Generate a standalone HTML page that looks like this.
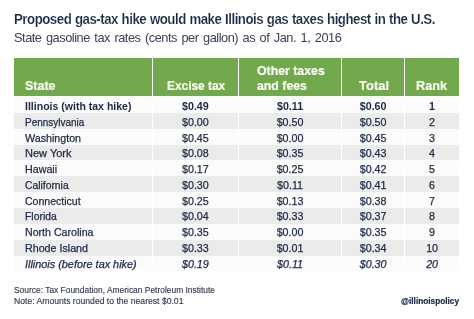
<!DOCTYPE html>
<html><head><meta charset="utf-8"><style>
html,body{margin:0;padding:0;background:#fff;width:474px;height:319px;overflow:hidden;}
body{font-family:"Liberation Sans",sans-serif;color:#1c2946;position:relative;}
#wrap{position:absolute;left:0;top:0;width:474px;height:319px;will-change:transform;}
.t{position:absolute;white-space:nowrap;transform-origin:0 0;}
#title{left:14px;top:13px;font-size:13.8px;font-weight:bold;letter-spacing:-0.5px;word-spacing:0.5px;-webkit-text-stroke:0.12px #fff;paint-order:normal;line-height:1;transform:scaleX(0.96);}
#sub{left:14px;top:31.3px;font-size:13.6px;letter-spacing:-0.5px;word-spacing:1.5px;line-height:1;color:#3a4157;transform:scaleX(0.94);}
.hdr{position:absolute;top:57.5px;height:38.90px;background:#73a94d;}
.h{color:#fafcf2;-webkit-text-stroke:0.2px #fafcf2;font-weight:bold;font-size:13px;position:absolute;white-space:nowrap;line-height:15px;letter-spacing:0px;transform-origin:0 0;}
.c{position:absolute;}
.g{background:#ebebeb;}
.w{background:#fbfbfb;}
.x{position:absolute;font-size:10.7px;white-space:nowrap;line-height:1;-webkit-text-stroke:0.25px #1c2946;}
.x span{display:inline-block;}
.nm span{transform-origin:0 50%;transform:scaleX(1.0);letter-spacing:0px;}
.b{-webkit-text-stroke:0px #fbfbfb;}
.nm.b span{transform:scaleX(0.985);letter-spacing:0px;}
.nm.i span{transform:scaleX(1);letter-spacing:0px;}
.nu{text-align:center;}
.nu span{transform-origin:50% 50%;transform:scaleX(1);}
#src,.src{left:14px;font-size:9.3px;line-height:10.5px;letter-spacing:0px;color:#33394c;-webkit-text-stroke:0.15px #33394c;}
#handle{left:401px;top:296.5px;font-size:8.5px;font-weight:bold;letter-spacing:0px;line-height:1;-webkit-text-stroke:0.2px #1c2946;transform:scaleX(0.97);}
</style></head><body><div id="wrap">
<div class="t" id="title">Proposed gas-tax hike would make Illinois gas taxes highest in the U.S.</div>
<div class="t" id="sub">State gasoline tax rates (cents per gallon) as of Jan. 1, 2016</div>
<div class="hdr" style="left:14.2px;width:137.80px"></div>
<div class="hdr" style="left:153.0px;width:84.80px"></div>
<div class="hdr" style="left:238.8px;width:102.50px"></div>
<div class="hdr" style="left:342.3px;width:61.70px"></div>
<div class="hdr" style="left:405.0px;width:54.20px"></div>
<div class="h" style="left:25px;top:78px;transform:scaleX(0.96)">State</div>
<div class="h" style="left:166.8px;top:78px;transform:scaleX(0.915)">Excise tax</div>
<div class="h" style="left:256.6px;top:63.4px;transform:scaleX(0.947)">Other taxes<br>and fees</div>
<div class="h" style="left:359px;top:78px;transform:scaleX(1)">Total</div>
<div class="h" style="left:416.3px;top:78px;transform:scaleX(0.975)">Rank</div>
<div class="c w" style="left:14.2px;top:97.10px;width:137.80px;height:15.85px"></div>
<div class="c w" style="left:153.0px;top:97.10px;width:84.80px;height:15.85px"></div>
<div class="c w" style="left:238.8px;top:97.10px;width:102.50px;height:15.85px"></div>
<div class="c w" style="left:342.3px;top:97.10px;width:61.70px;height:15.85px"></div>
<div class="c w" style="left:405.0px;top:97.10px;width:54.20px;height:15.85px"></div>
<div class="x nm b" style="left:25px;top:101.20px;font-weight:bold;"><span style="transform:scaleX(0.985)">Illinois (with tax hike)</span></div>
<div class="x nu b" style="left:153.00px;width:84.80px;top:101.20px;font-weight:bold;"><span>$0.49</span></div>
<div class="x nu b" style="left:238.80px;width:102.50px;top:101.20px;font-weight:bold;"><span>$0.11</span></div>
<div class="x nu b" style="left:342.30px;width:61.70px;top:101.20px;font-weight:bold;"><span>$0.60</span></div>
<div class="x nu b" style="left:405.00px;width:54.20px;top:101.20px;font-weight:bold;"><span>1</span></div>
<div class="c g" style="left:14.2px;top:112.95px;width:137.80px;height:15.85px"></div>
<div class="c g" style="left:153.0px;top:112.95px;width:84.80px;height:15.85px"></div>
<div class="c g" style="left:238.8px;top:112.95px;width:102.50px;height:15.85px"></div>
<div class="c g" style="left:342.3px;top:112.95px;width:61.70px;height:15.85px"></div>
<div class="c g" style="left:405.0px;top:112.95px;width:54.20px;height:15.85px"></div>
<div class="x nm" style="left:25px;top:116.95px;"><span style="transform:scaleX(0.932)">Pennsylvania</span></div>
<div class="x nu" style="left:153.00px;width:84.80px;top:116.95px;"><span>$0.00</span></div>
<div class="x nu" style="left:238.80px;width:102.50px;top:116.95px;"><span>$0.50</span></div>
<div class="x nu" style="left:342.30px;width:61.70px;top:116.95px;"><span>$0.50</span></div>
<div class="x nu" style="left:405.00px;width:54.20px;top:116.95px;"><span>2</span></div>
<div class="c w" style="left:14.2px;top:128.80px;width:137.80px;height:15.85px"></div>
<div class="c w" style="left:153.0px;top:128.80px;width:84.80px;height:15.85px"></div>
<div class="c w" style="left:238.8px;top:128.80px;width:102.50px;height:15.85px"></div>
<div class="c w" style="left:342.3px;top:128.80px;width:61.70px;height:15.85px"></div>
<div class="c w" style="left:405.0px;top:128.80px;width:54.20px;height:15.85px"></div>
<div class="x nm" style="left:25px;top:132.70px;"><span style="transform:scaleX(1.0)">Washington</span></div>
<div class="x nu" style="left:153.00px;width:84.80px;top:132.70px;"><span>$0.45</span></div>
<div class="x nu" style="left:238.80px;width:102.50px;top:132.70px;"><span>$0.00</span></div>
<div class="x nu" style="left:342.30px;width:61.70px;top:132.70px;"><span>$0.45</span></div>
<div class="x nu" style="left:405.00px;width:54.20px;top:132.70px;"><span>3</span></div>
<div class="c g" style="left:14.2px;top:144.65px;width:137.80px;height:15.85px"></div>
<div class="c g" style="left:153.0px;top:144.65px;width:84.80px;height:15.85px"></div>
<div class="c g" style="left:238.8px;top:144.65px;width:102.50px;height:15.85px"></div>
<div class="c g" style="left:342.3px;top:144.65px;width:61.70px;height:15.85px"></div>
<div class="c g" style="left:405.0px;top:144.65px;width:54.20px;height:15.85px"></div>
<div class="x nm" style="left:25px;top:148.45px;"><span style="transform:scaleX(1.03)">New York</span></div>
<div class="x nu" style="left:153.00px;width:84.80px;top:148.45px;"><span>$0.08</span></div>
<div class="x nu" style="left:238.80px;width:102.50px;top:148.45px;"><span>$0.35</span></div>
<div class="x nu" style="left:342.30px;width:61.70px;top:148.45px;"><span>$0.43</span></div>
<div class="x nu" style="left:405.00px;width:54.20px;top:148.45px;"><span>4</span></div>
<div class="c w" style="left:14.2px;top:160.50px;width:137.80px;height:15.85px"></div>
<div class="c w" style="left:153.0px;top:160.50px;width:84.80px;height:15.85px"></div>
<div class="c w" style="left:238.8px;top:160.50px;width:102.50px;height:15.85px"></div>
<div class="c w" style="left:342.3px;top:160.50px;width:61.70px;height:15.85px"></div>
<div class="c w" style="left:405.0px;top:160.50px;width:54.20px;height:15.85px"></div>
<div class="x nm" style="left:25px;top:164.20px;"><span style="transform:scaleX(1.0)">Hawaii</span></div>
<div class="x nu" style="left:153.00px;width:84.80px;top:164.20px;"><span>$0.17</span></div>
<div class="x nu" style="left:238.80px;width:102.50px;top:164.20px;"><span>$0.25</span></div>
<div class="x nu" style="left:342.30px;width:61.70px;top:164.20px;"><span>$0.42</span></div>
<div class="x nu" style="left:405.00px;width:54.20px;top:164.20px;"><span>5</span></div>
<div class="c g" style="left:14.2px;top:176.35px;width:137.80px;height:15.85px"></div>
<div class="c g" style="left:153.0px;top:176.35px;width:84.80px;height:15.85px"></div>
<div class="c g" style="left:238.8px;top:176.35px;width:102.50px;height:15.85px"></div>
<div class="c g" style="left:342.3px;top:176.35px;width:61.70px;height:15.85px"></div>
<div class="c g" style="left:405.0px;top:176.35px;width:54.20px;height:15.85px"></div>
<div class="x nm" style="left:25px;top:179.95px;"><span style="transform:scaleX(0.967)">California</span></div>
<div class="x nu" style="left:153.00px;width:84.80px;top:179.95px;"><span>$0.30</span></div>
<div class="x nu" style="left:238.80px;width:102.50px;top:179.95px;"><span>$0.11</span></div>
<div class="x nu" style="left:342.30px;width:61.70px;top:179.95px;"><span>$0.41</span></div>
<div class="x nu" style="left:405.00px;width:54.20px;top:179.95px;"><span>6</span></div>
<div class="c w" style="left:14.2px;top:192.20px;width:137.80px;height:15.85px"></div>
<div class="c w" style="left:153.0px;top:192.20px;width:84.80px;height:15.85px"></div>
<div class="c w" style="left:238.8px;top:192.20px;width:102.50px;height:15.85px"></div>
<div class="c w" style="left:342.3px;top:192.20px;width:61.70px;height:15.85px"></div>
<div class="c w" style="left:405.0px;top:192.20px;width:54.20px;height:15.85px"></div>
<div class="x nm" style="left:25px;top:195.70px;"><span style="transform:scaleX(0.986)">Connecticut</span></div>
<div class="x nu" style="left:153.00px;width:84.80px;top:195.70px;"><span>$0.25</span></div>
<div class="x nu" style="left:238.80px;width:102.50px;top:195.70px;"><span>$0.13</span></div>
<div class="x nu" style="left:342.30px;width:61.70px;top:195.70px;"><span>$0.38</span></div>
<div class="x nu" style="left:405.00px;width:54.20px;top:195.70px;"><span>7</span></div>
<div class="c g" style="left:14.2px;top:208.05px;width:137.80px;height:15.85px"></div>
<div class="c g" style="left:153.0px;top:208.05px;width:84.80px;height:15.85px"></div>
<div class="c g" style="left:238.8px;top:208.05px;width:102.50px;height:15.85px"></div>
<div class="c g" style="left:342.3px;top:208.05px;width:61.70px;height:15.85px"></div>
<div class="c g" style="left:405.0px;top:208.05px;width:54.20px;height:15.85px"></div>
<div class="x nm" style="left:25px;top:211.45px;"><span style="transform:scaleX(0.972)">Florida</span></div>
<div class="x nu" style="left:153.00px;width:84.80px;top:211.45px;"><span>$0.04</span></div>
<div class="x nu" style="left:238.80px;width:102.50px;top:211.45px;"><span>$0.33</span></div>
<div class="x nu" style="left:342.30px;width:61.70px;top:211.45px;"><span>$0.37</span></div>
<div class="x nu" style="left:405.00px;width:54.20px;top:211.45px;"><span>8</span></div>
<div class="c w" style="left:14.2px;top:223.90px;width:137.80px;height:15.85px"></div>
<div class="c w" style="left:153.0px;top:223.90px;width:84.80px;height:15.85px"></div>
<div class="c w" style="left:238.8px;top:223.90px;width:102.50px;height:15.85px"></div>
<div class="c w" style="left:342.3px;top:223.90px;width:61.70px;height:15.85px"></div>
<div class="c w" style="left:405.0px;top:223.90px;width:54.20px;height:15.85px"></div>
<div class="x nm" style="left:25px;top:227.20px;"><span style="transform:scaleX(0.994)">North Carolina</span></div>
<div class="x nu" style="left:153.00px;width:84.80px;top:227.20px;"><span>$0.35</span></div>
<div class="x nu" style="left:238.80px;width:102.50px;top:227.20px;"><span>$0.00</span></div>
<div class="x nu" style="left:342.30px;width:61.70px;top:227.20px;"><span>$0.35</span></div>
<div class="x nu" style="left:405.00px;width:54.20px;top:227.20px;"><span>9</span></div>
<div class="c g" style="left:14.2px;top:239.75px;width:137.80px;height:15.85px"></div>
<div class="c g" style="left:153.0px;top:239.75px;width:84.80px;height:15.85px"></div>
<div class="c g" style="left:238.8px;top:239.75px;width:102.50px;height:15.85px"></div>
<div class="c g" style="left:342.3px;top:239.75px;width:61.70px;height:15.85px"></div>
<div class="c g" style="left:405.0px;top:239.75px;width:54.20px;height:15.85px"></div>
<div class="x nm" style="left:25px;top:242.95px;"><span style="transform:scaleX(1.0)">Rhode Island</span></div>
<div class="x nu" style="left:153.00px;width:84.80px;top:242.95px;"><span>$0.33</span></div>
<div class="x nu" style="left:238.80px;width:102.50px;top:242.95px;"><span>$0.01</span></div>
<div class="x nu" style="left:342.30px;width:61.70px;top:242.95px;"><span>$0.34</span></div>
<div class="x nu" style="left:405.00px;width:54.20px;top:242.95px;"><span>10</span></div>
<div class="c w" style="left:14.2px;top:255.60px;width:137.80px;height:15.8px"></div>
<div class="c w" style="left:153.0px;top:255.60px;width:84.80px;height:15.8px"></div>
<div class="c w" style="left:238.8px;top:255.60px;width:102.50px;height:15.8px"></div>
<div class="c w" style="left:342.3px;top:255.60px;width:61.70px;height:15.8px"></div>
<div class="c w" style="left:405.0px;top:255.60px;width:54.20px;height:15.8px"></div>
<div class="x nm i" style="left:25px;top:258.70px;font-style:italic;"><span style="transform:scaleX(1.016)">Illinois (before tax hike)</span></div>
<div class="x nu i" style="left:153.00px;width:84.80px;top:258.70px;font-style:italic;"><span>$0.19</span></div>
<div class="x nu i" style="left:238.80px;width:102.50px;top:258.70px;font-style:italic;"><span>$0.11</span></div>
<div class="x nu i" style="left:342.30px;width:61.70px;top:258.70px;font-style:italic;"><span>$0.30</span></div>
<div class="x nu i" style="left:405.00px;width:54.20px;top:258.70px;font-style:italic;"><span>20</span></div>
<div class="t src" style="top:285px;transform:scaleX(0.905)">Source: Tax Foundation, American Petroleum Institute</div>
<div class="t src" style="top:295.5px;transform:scaleX(0.926)">Note: Amounts rounded to the nearest $0.01</div>
<div class="t" id="handle">@illinoispolicy</div>
</div></body></html>
